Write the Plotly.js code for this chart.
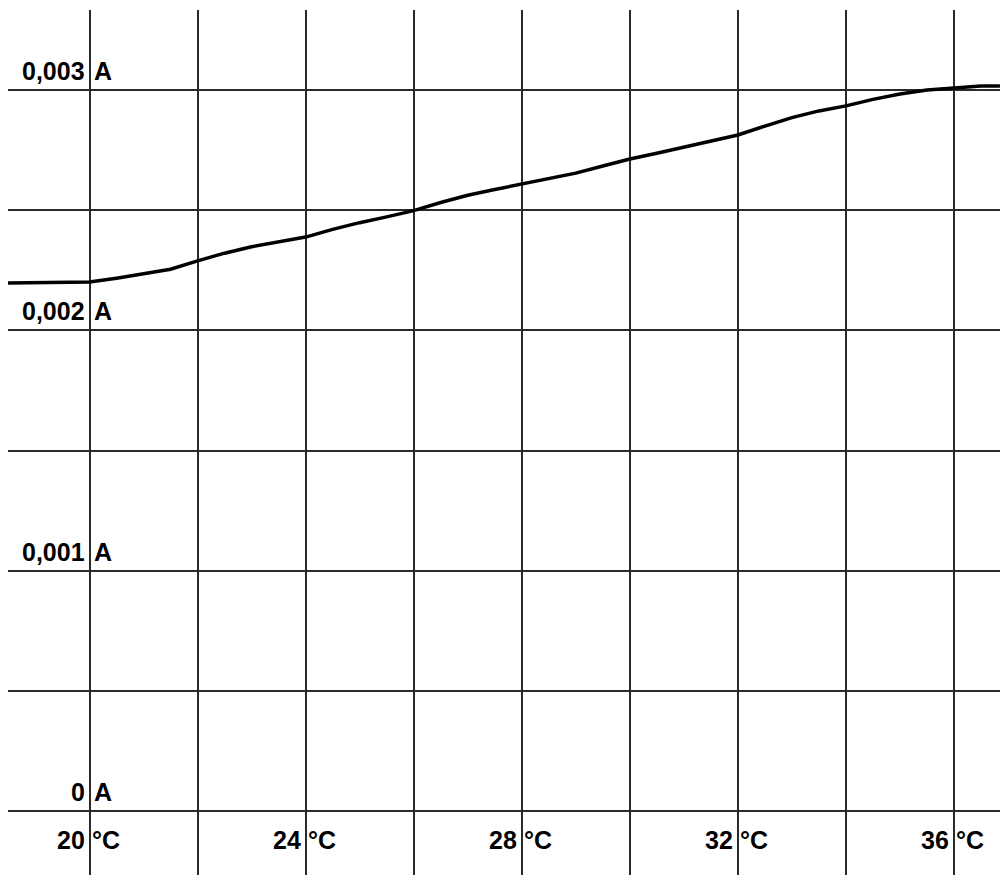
<!DOCTYPE html>
<html>
<head>
<meta charset="utf-8">
<script src="https://cdn.plot.ly/plotly-3.0.1.min.js"></script>
<style>html,body{margin:0;padding:0;background:#fff;}#chart{width:1000px;height:875px;}</style>
</head>
<body>
<div id="chart"></div>
<script>
// Temperature (°C)
const temps = [18.49, 19.0, 19.5, 20.0, 20.5, 21.0, 21.5, 22.0, 22.5, 23.0, 23.5, 24.0, 24.5, 25.0, 25.5, 26.0, 26.5, 27.0, 27.5, 28.0, 28.5, 29.0, 29.5, 30.0, 30.5, 31.0, 31.5, 32.0, 32.5, 33.0, 33.5, 34.0, 34.5, 35.0, 35.5, 36.0, 36.5, 36.85];
// Current (A)
const currents = [0.002197, 0.002199, 0.002201, 0.002201, 0.002217, 0.002234, 0.002254, 0.002289, 0.002321, 0.002348, 0.002369, 0.002388, 0.002420, 0.002448, 0.002472, 0.002498, 0.002532, 0.002562, 0.002586, 0.002608, 0.002630, 0.002654, 0.002684, 0.002713, 0.002737, 0.002762, 0.002785, 0.002813, 0.002850, 0.002885, 0.002913, 0.002934, 0.002961, 0.002983, 0.003000, 0.003010, 0.003017, 0.003017];

const yLabelValues = [0, 0.001, 0.002, 0.003];
const yLabelNumbers = ["0", "0,001", "0,002", "0,003"];
const yUnit = "A";
const xLabelValues = [20, 24, 28, 32, 36];
const xLabelNumbers = ["20", "24", "28", "32", "36"];
const xUnit = "°C";

const labelFont = {family: "Liberation Sans, Arial, sans-serif", size: 25, color: "#000", weight: "bold"};
const annotations = [];
const yBottom = -0.0002663;
yLabelValues.forEach((v, i) => {
  annotations.push({x: 20, y: v, xref: "x", yref: "y", text: "<b>" + yLabelNumbers[i] + "</b>", showarrow: false,
    xanchor: "right", yanchor: "middle", xshift: -3, yshift: 19, font: labelFont});
  annotations.push({x: 20, y: v, xref: "x", yref: "y", text: "<b>" + yUnit + "</b>", showarrow: false,
    xanchor: "left", yanchor: "middle", xshift: 2, yshift: 19, font: labelFont});
});
xLabelValues.forEach((v, i) => {
  annotations.push({x: v, y: 0, xref: "x", yref: "y", text: "<b>" + xLabelNumbers[i] + "</b>", showarrow: false,
    xanchor: "right", yanchor: "middle", xshift: -3, yshift: -29, font: labelFont});
  annotations.push({x: v, y: 0, xref: "x", yref: "y", text: "<b>" + xUnit + "</b>", showarrow: false,
    xanchor: "left", yanchor: "middle", xshift: 0, yshift: -29, font: labelFont});
});

const trace = {x: temps, y: currents, type: "scatter", mode: "lines",
  line: {color: "#000", width: 3.5}, hoverinfo: "skip"};

const layout = {
  width: 1000, height: 875,
  margin: {l: 8, r: 0, t: 10, b: 0, pad: 0},
  paper_bgcolor: "#fff", plot_bgcolor: "#fff",
  showlegend: false,
  xaxis: {range: [18.4916, 36.851], tick0: 20, dtick: 2, showticklabels: false, ticks: "",
    showgrid: true, gridcolor: "#2a2a2a", gridwidth: 2, zeroline: false, showline: false, fixedrange: true},
  yaxis: {range: [yBottom, 0.0033329], tick0: 0, dtick: 0.0005, showticklabels: false, ticks: "",
    showgrid: true, gridcolor: "#2a2a2a", gridwidth: 2, zeroline: false, showline: false, fixedrange: true},
  annotations: annotations
};

Plotly.newPlot("chart", [trace], layout, {staticPlot: true, displayModeBar: false});
</script>
</body>
</html>
